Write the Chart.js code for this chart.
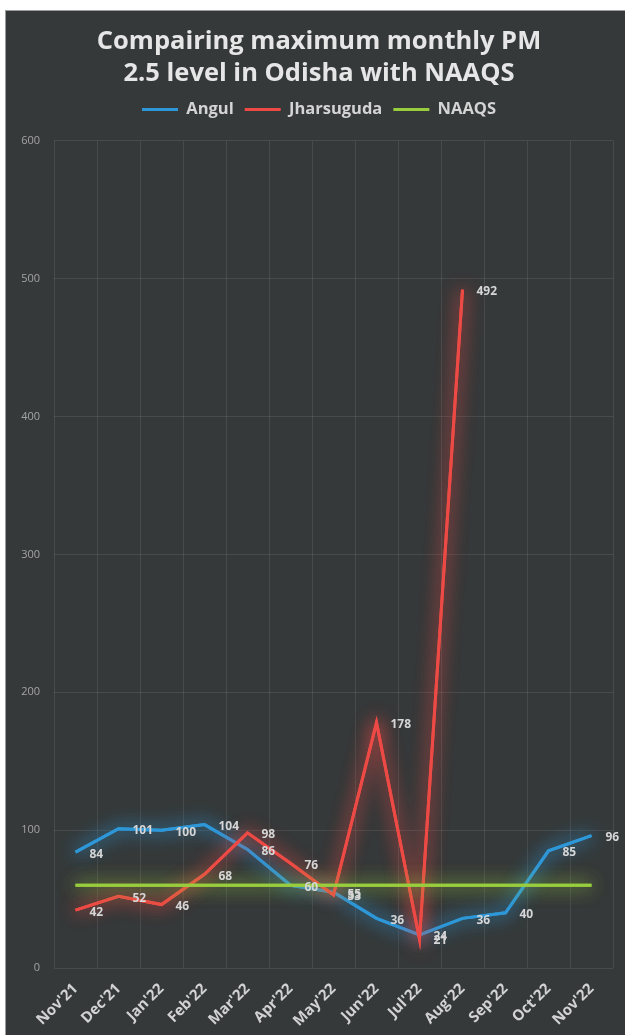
<!DOCTYPE html>
<html>
<head>
<meta charset="utf-8">
<script src="https://cdn.jsdelivr.net/npm/chart.js@4.4.0/dist/chart.umd.min.js"></script>
<style>
  html, body { margin: 0; padding: 0; background: #fff; }
  #wrap { width: 625px; height: 1035px; }
</style>
</head>
<body>
<div id="wrap"><canvas id="pm-chart"></canvas></div>
<script>
// monthly max PM 2.5 (µg/m3)
const months = ["Nov'21", "Dec'21", "Jan'22", "Feb'22", "Mar'22", "Apr'22", "May'22",
                "Jun'22", "Jul'22", "Aug'22", "Sep'22", "Oct'22", "Nov'22"];
const angul = [84, 101, 100, 104, 86, 60, 55, 36, 24, 36, 40, 85, 96];
const jharsuguda = [42, 52, 46, 68, 98, 76, 53, 178, 21, 492, null, null, null];
const naaqs = [60, 60, 60, 60, 60, 60, 60, 60, 60, 60, 60, 60, 60];
const titleLines = ['Compairing maximum monthly PM', '2.5 level in Odisha with NAAQS'];

const FONT = '"Open Sans", "DejaVu Sans", sans-serif';
const GRID = 'rgba(255,255,255,0.09)';

// dark panel behind the chart, with the thin light edge of the original
const panel = {
  id: 'panel',
  beforeDraw(chart) {
    const { ctx, width, height } = chart;
    ctx.save();
    ctx.fillStyle = '#ffffff';
    ctx.fillRect(0, 0, width, height);
    ctx.fillStyle = '#9a9c9d';
    ctx.fillRect(5, 10, width - 5, height - 10);
    ctx.fillStyle = '#36393a';
    ctx.fillRect(6, 11, width - 6, height - 11);
    ctx.restore();
  }
};

// soft coloured halo round each line (drawn an extra time to thicken it)
const glow = {
  id: 'glow',
  beforeDatasetDraw(chart, args) {
    const ds = chart.data.datasets[args.index];
    const ctx = chart.ctx;
    ctx.save();
    ctx.shadowColor = ds.glowColor;
    ctx.shadowBlur = 18;
    args.meta.dataset.draw(ctx, chart.chartArea);
  },
  afterDatasetDraw(chart) {
    chart.ctx.restore();
  }
};

// value labels to the right of each point
const valueLabels = {
  id: 'valueLabels',
  afterDatasetsDraw(chart) {
    const ctx = chart.ctx;
    ctx.save();
    ctx.font = 'bold 12px ' + FONT;
    ctx.fillStyle = '#d6d6d6';
    ctx.textAlign = 'left';
    ctx.textBaseline = 'middle';
    chart.data.datasets.forEach((ds, i) => {
      if (!ds.showValues) return;
      chart.getDatasetMeta(i).data.forEach((pt, j) => {
        const v = ds.data[j];
        if (v == null) return;
        ctx.fillText(String(v), pt.x + 14, pt.y + 2);
      });
    });
    ctx.restore();
  }
};

// a bit of room between legend and plot
const legendGap = {
  id: 'legendGap',
  beforeInit(chart) {
    const fit = chart.legend.fit;
    chart.legend.fit = function () {
      fit.bind(chart.legend)();
      this.height += 13;
    };
  }
};

function lineSet(label, data, color, glowColor, order, showValues) {
  return {
    label, data, order, showValues, glowColor,
    borderColor: color,
    backgroundColor: color,
    borderWidth: 3,
    pointRadius: 0,
    tension: 0,
    spanGaps: false,
  };
}

new Chart(document.getElementById('pm-chart'), {
  type: 'line',
  data: {
    labels: months,
    datasets: [
      lineSet('Angul', angul, '#2d97d8', 'rgba(45,151,216,0.85)', 3, true),
      lineSet('Jharsuguda', jharsuguda, '#ee4a45', 'rgba(238,74,69,0.85)', 2, true),
      lineSet('NAAQS', naaqs, '#98cd3e', 'rgba(152,205,62,0.75)', 1, false),
    ],
  },
  options: {
    responsive: true,
    maintainAspectRatio: false,
    animation: false,
    layout: { padding: { top: 26, right: 0, left: 13, bottom: 0 } },
    plugins: {
      title: {
        display: true,
        text: titleLines,
        color: '#e6e6e6',
        font: { family: FONT, size: 25.5, weight: 'bold', lineHeight: 1.26 },
        padding: { top: 0, bottom: 0 },
      },
      legend: {
        display: true,
        labels: {
          color: '#d4d4d4',
          font: { family: FONT, size: 16.5, weight: 'bold' },
          usePointStyle: true,
          pointStyle: 'line',
          pointStyleWidth: 36,
          padding: 11,
          sort: (a, b) => a.datasetIndex - b.datasetIndex,
        },
      },
      tooltip: { enabled: false },
    },
    scales: {
      x: {
        offset: true,
        grid: { color: GRID, offset: true, drawTicks: false },
        border: { display: false },
        ticks: {
          color: '#d2d2d2',
          font: { family: FONT, size: 15, weight: 'bold' },
          minRotation: 45,
          maxRotation: 45,
          padding: 12,
        },
        afterFit(s) { s.height = 67; },
      },
      y: {
        min: 0,
        max: 600,
        grid: { color: GRID, drawTicks: false },
        border: { display: false },
        ticks: {
          stepSize: 100,
          color: '#a4a4a4',
          font: { family: FONT, size: 11 },
          padding: 14,
        },
        afterFit(s) { s.width = 41; },
      },
      // empty right-hand axis, only keeps a small margin right of the plot
      yRight: {
        position: 'right',
        min: 0,
        max: 600,
        grid: { display: false },
        border: { display: false },
        ticks: { display: false },
        afterFit(s) { s.width = 12; },
      },
    },
  },
  plugins: [panel, glow, valueLabels, legendGap],
});
</script>
</body>
</html>
